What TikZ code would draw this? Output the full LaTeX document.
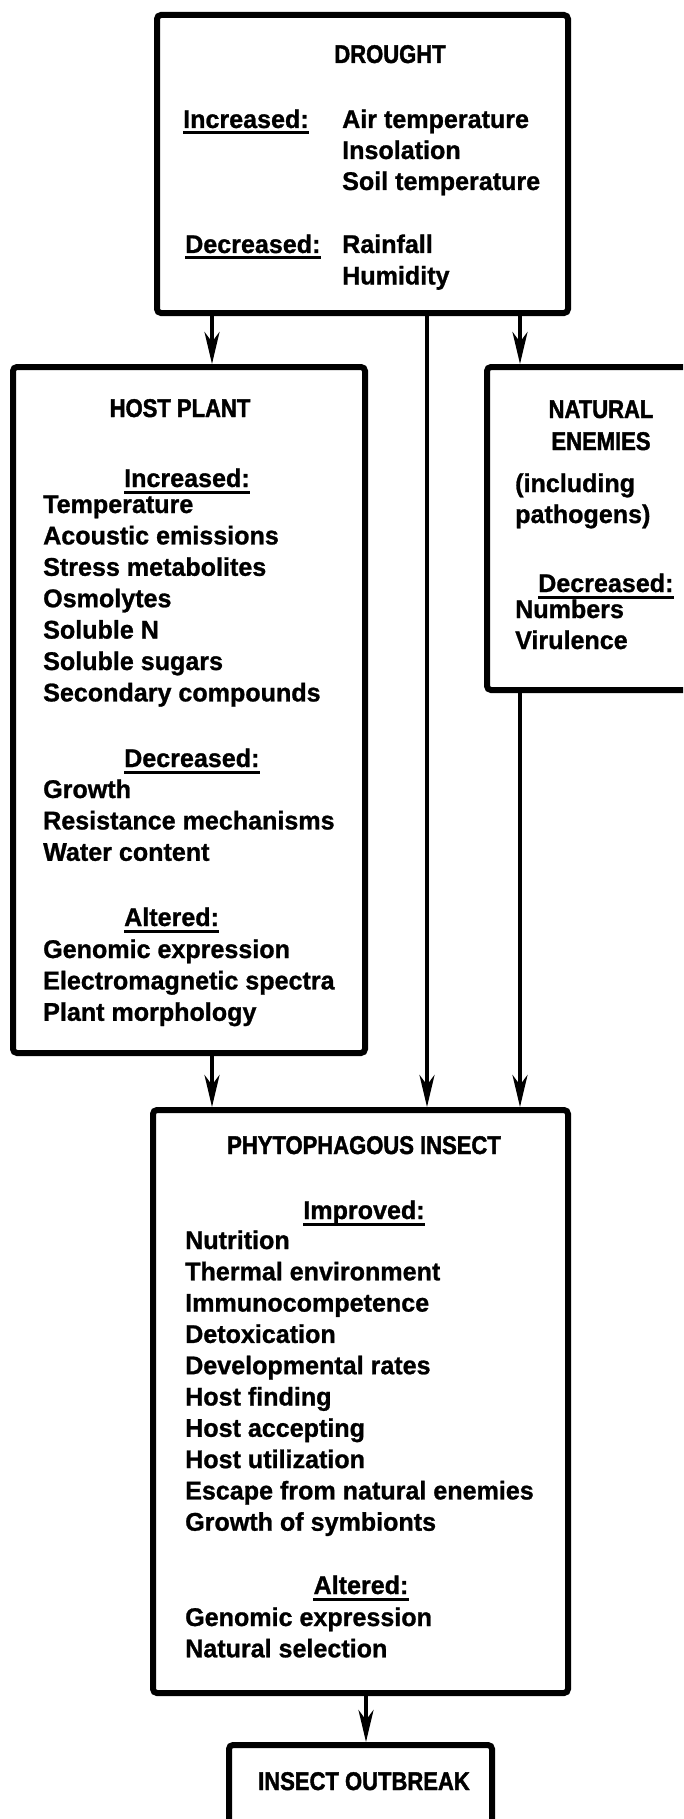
\documentclass[tikz,border=0pt]{standalone}
\usepackage{fontspec}
\setmainfont{Liberation Sans}[FakeStretch=0.98, BoldFeatures={FakeBold=1}]
\newfontfamily\capsfont{Liberation Sans}[UprightFont={* Bold}, FakeStretch=0.86, FakeBold=1.6]
\usetikzlibrary{arrows.meta}
\tikzset{box/.style={draw, line width=6pt, rounded corners=4pt, inner sep=0pt},
 txt/.style={inner sep=0pt, anchor=base west, font=\fontsize{25.6}{31.3}\selectfont\bfseries},
 ttl/.style={inner sep=0pt, anchor=base, font=\fontsize{25.6}{31.3}\selectfont\capsfont},
 uline/.style={line width=3pt},
 arr/.style={line width=4pt, -{Stealth[length=32pt, width=15pt, inset=10pt]}},
 }

\begin{document}
\begin{tikzpicture}[x=1pt,y=-1pt]
        \useasboundingbox (0,0) rectangle (683,1819);
        \clip (0,0) rectangle (683,1819);
        \node[box, minimum width=411pt, minimum height=298pt] (drought) at (362.5,164) {};
        \node[box, minimum width=352pt, minimum height=686pt] (host) at (189,710) {};
        \node[box, minimum width=228pt, minimum height=323pt] (enem) at (601,528.5) {};
        \node[box, minimum width=415pt, minimum height=583pt] (insect) at (360.5,1401.5) {};
        \node[box, minimum width=263pt, minimum height=105pt] (outbreak) at (360.5,1797.5) {};

        \node[ttl] (drt) at (390,63) {DROUGHT};
        \node[txt] (drinc) at (183,128) {Increased:};
        \foreach \t[count=\i from 0] in {Air temperature, Insolation, Soil temperature} {
            \node[txt] (drinc\i) at (342,{128+31*\i}) {\t};
        }
        \node[txt] (drdec) at (185,253) {Decreased:};
        \foreach \t[count=\i from 0] in {Rainfall, Humidity} {
            \node[txt] (drdec\i) at (342,{253+31.5*\i}) {\t};
        }

        \node[ttl] (hpt) at (180,417) {HOST PLANT};
        \node[txt] (hpinc) at (124,487) {Increased:};
        \foreach \t[count=\i from 0] in {Temperature, Acoustic emissions, Stress metabolites, Osmolytes, Soluble N, Soluble sugars, Secondary compounds} {
            \node[txt] (hpinc\i) at (43,{513+31.4*\i}) {\t};
        }
        \node[txt] (hpdec) at (124,767) {Decreased:};
        \foreach \t[count=\i from 0] in {Growth, Resistance mechanisms, Water content} {
            \node[txt] (hpdec\i) at (43,{798+31.4*\i}) {\t};
        }
        \node[txt] (hpalt) at (124,926) {Altered:};
        \foreach \t[count=\i from 0] in {Genomic expression, Electromagnetic spectra, Plant morphology} {
            \node[txt] (hpalt\i) at (43,{958+31.4*\i}) {\t};
        }

        \node[ttl] (net1) at (601,418) {NATURAL};
        \node[ttl] (net2) at (601,450) {ENEMIES};
        \node[txt] (nenote1) at (515,492) {(including};
        \node[txt] (nenote2) at (515,523) {pathogens)};
        \node[txt] (nedec) at (538,592) {Decreased:};
        \foreach \t[count=\i from 0] in {Numbers, Virulence} {
            \node[txt] (nedec\i) at (515,{618+31*\i}) {\t};
        }

        \node[ttl] (pit) at (364,1154) {PHYTOPHAGOUS INSECT};
        \node[txt, anchor=base] (piimp) at (364,1219) {Improved:};
        \foreach \t[count=\i from 0] in {Nutrition, Thermal environment, Immunocompetence, Detoxication, Developmental rates, Host finding, Host accepting, Host utilization, Escape from natural enemies, Growth of symbionts} {
            \node[txt] (piimp\i) at (185,{1249+31.3*\i}) {\t};
        }
        \node[txt, anchor=base] (pialt) at (361,1594) {Altered:};
        \foreach \t[count=\i from 0] in {Genomic expression, Natural selection} {
            \node[txt] (pialt\i) at (185,{1626+31.3*\i}) {\t};
        }

        \node[ttl] (obt) at (364,1790) {INSECT OUTBREAK};

        \foreach \h in {drinc, drdec, hpinc, hpdec, hpalt, nedec, piimp, pialt} {
            \draw[uline] ([yshift=-5pt]\h.base west) -- ([yshift=-5pt]\h.base east);
        }

        \coordinate (lft) at (212,0);
        \coordinate (mid) at (427,0);
        \coordinate (rgt) at (520,0);
        \coordinate (ctr) at (366,0);
        \draw[arr] (drought.south -| lft) -- (host.north -| lft);
        \draw[arr] (drought.south -| rgt) -- (enem.north -| rgt);
        \draw[arr] (drought.south -| mid) -- (insect.north -| mid);
        \draw[arr] (host.south -| lft) -- (insect.north -| lft);
        \draw[arr] (enem.south -| rgt) -- (insect.north -| rgt);
        \draw[arr] (insect.south -| ctr) -- (outbreak.north -| ctr);
    \end{tikzpicture}
\end{document}
